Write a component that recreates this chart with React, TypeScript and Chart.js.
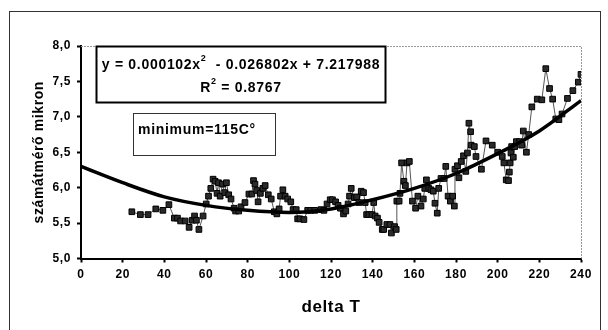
import React, { useEffect, useRef } from 'react';
import { Chart, registerables } from 'chart.js';

Chart.register(...registerables);

const FONT = '"Liberation Sans", Arial, Helvetica, sans-serif';

const deltaT = [
  24.4, 28.5, 32.2, 35.9, 39.3, 42.2, 44.8, 46.3, 47.8, 50.0, 51.9, 53.4, 54.5, 55.4, 56.6, 58.6,
  60.1, 61.2, 62.3, 63.4, 64.4, 65.3, 66.0, 66.8, 67.9, 69.0, 69.8, 70.9, 72.0, 73.5, 74.2, 75.7,
  76.8, 78.7, 80.6, 82.0, 82.8, 83.5, 84.3, 85.0, 86.1, 87.3, 88.4, 89.9, 91.3, 92.8, 94.0, 95.1,
  95.8, 96.9, 98.0, 99.2, 100.7, 101.8, 103.3, 104.0, 105.1, 107.0, 108.8, 110.3, 112.2, 115.2,
  116.6, 118.1, 119.6, 120.7, 122.2, 123.4, 124.5, 126.0, 127.1, 128.2, 128.9, 129.7, 131.2, 132.3,
  133.4, 134.5, 135.6, 136.4, 137.1, 138.2, 139.7, 140.5, 141.2, 142.3, 143.1, 144.6, 145.3, 146.8,
  148.3, 149.0, 150.5, 151.3, 151.6, 152.7, 153.1, 153.9, 155.0, 155.7, 156.5, 157.6, 159.1, 160.6,
  161.7, 163.2, 164.3, 165.0, 165.8, 166.9, 168.0, 169.1, 169.9, 171.0, 171.7, 172.8, 174.3, 175.1,
  176.2, 177.3, 178.4, 179.2, 179.5, 180.7, 181.4, 182.5, 183.6, 184.7, 185.5, 186.2, 187.0, 187.3,
  188.8, 189.6, 192.2, 194.4, 197.4, 200.0, 202.2, 203.0, 204.1, 205.2, 205.6, 206.0, 206.4, 206.7,
  207.5, 208.2, 209.0, 210.5, 211.5, 212.3, 213.8, 214.9, 216.4, 219.0, 221.2, 223.1, 224.9, 226.4,
  227.9, 229.4, 230.9, 233.5, 236.1, 238.7, 240.0,
];

const diameter = [
  5.66, 5.62, 5.62, 5.70, 5.68, 5.76, 5.57, 5.57, 5.53, 5.53, 5.44, 5.54, 5.60, 5.54, 5.41, 5.60,
  5.77, 5.88, 5.99, 6.12, 6.09, 5.92, 6.07, 5.88, 6.05, 5.93, 6.07, 5.90, 5.84, 5.71, 5.67, 5.67,
  5.73, 5.79, 5.91, 5.91, 6.10, 6.05, 5.96, 5.80, 5.92, 5.99, 6.03, 5.90, 5.84, 5.66, 5.63, 5.70,
  5.88, 5.97, 5.88, 5.84, 5.80, 5.69, 5.69, 5.56, 5.56, 5.55, 5.68, 5.68, 5.68, 5.69,
  5.68, 5.77, 5.83, 5.83, 5.80, 5.75, 5.71, 5.63, 5.67, 5.77, 5.88, 5.99, 5.86, 5.87,
  5.79, 5.95, 5.93, 5.79, 5.62, 5.62, 5.62, 5.79, 5.60, 5.57, 5.51, 5.41, 5.41, 5.48,
  5.48, 5.36, 5.45, 5.41, 5.81, 5.81, 5.92, 6.35, 6.09, 6.03, 6.35, 6.37, 5.81, 5.71,
  5.88, 5.74, 5.84, 5.99, 6.11, 5.99, 5.97, 5.95, 5.78, 5.64, 5.99, 6.13, 6.13, 6.30,
  5.88, 5.81, 5.88, 5.74, 6.26, 6.31, 6.14, 6.37, 6.45, 6.23, 6.49, 6.91, 6.79, 6.60,
  6.58, 6.44, 6.26, 6.66, 6.60, 6.50, 6.44, 6.35, 6.11, 6.10, 6.22, 6.35, 6.49, 6.58,
  6.43, 6.58, 6.65, 6.65, 6.60, 6.80, 6.50, 6.75, 7.14, 7.25, 7.24, 7.68, 7.40, 7.25,
  6.97, 6.96, 7.04, 7.26, 7.37, 7.49, 7.60,
];

const trendX = [0, 20, 40, 60, 80, 100, 120, 140, 160, 180, 200, 220, 240];
const trendY = [6.30, 6.07, 5.87, 5.75, 5.68, 5.65, 5.70, 5.83, 5.99, 6.20, 6.48, 6.80, 7.23];

const xTickValues = [0, 20, 40, 60, 80, 100, 120, 140, 160, 180, 200, 220, 240];
const yTickValues = [5, 5.5, 6, 6.5, 7, 7.5, 8];
const yTickLabels = ['5,0', '5,5', '6,0', '6,5', '7,0', '7,5', '8,0'];

const xTitle = 'delta T';
const yTitle = 'számátmérő mikron';
const equationLine1 = [
  { t: 'y = 0.000102x', sup: false },
  { t: '2', sup: true },
  { t: '  - 0.026802x + 7.217988', sup: false },
];
const equationLine2 = [
  { t: 'R', sup: false },
  { t: '2', sup: true },
  { t: ' = 0.8767', sup: false },
];
const minimumLine = [{ t: 'minimum=115C°', sup: false }];

type Seg = { t: string; sup: boolean };

function drawSegs(ctx: CanvasRenderingContext2D, segs: Seg[], x: number, y: number, center: boolean) {
  const big = `bold 14px ${FONT}`;
  const small = `bold 9px ${FONT}`;
  let total = 0;
  const widths = segs.map((s) => {
    ctx.font = s.sup ? small : big;
    const w = ctx.measureText(s.t).width;
    total += w;
    return w;
  });
  let cx = center ? x - total / 2 : x;
  segs.forEach((s, i) => {
    ctx.font = s.sup ? small : big;
    ctx.textAlign = 'left';
    ctx.textBaseline = 'middle';
    ctx.fillText(s.t, cx, s.sup ? y - 6 : y);
    cx += widths[i];
  });
}

const decorPlugin = {
  id: 'decor',
  beforeDraw(chart: any) {
    const ctx = chart.ctx as CanvasRenderingContext2D;
    ctx.save();
    ctx.fillStyle = '#fff';
    ctx.fillRect(0, 0, chart.width, chart.height);
    ctx.strokeStyle = '#333';
    ctx.lineWidth = 1;
    ctx.strokeRect(9.5, 11.5, 591, 340);
    ctx.restore();
    (ctx as any).letterSpacing = '0.6px';
  },
  afterDraw(chart: any) {
    const ctx = chart.ctx as CanvasRenderingContext2D;
    const ca = chart.chartArea;
    ctx.save();
    (ctx as any).letterSpacing = '0px';
    // top and right plot border (thin dotted gray)
    ctx.strokeStyle = '#999';
    ctx.lineWidth = 1;
    ctx.setLineDash([2, 1]);
    ctx.beginPath();
    ctx.moveTo(ca.left, ca.top + 0.5);
    ctx.lineTo(ca.right + 0.5, ca.top + 0.5);
    ctx.lineTo(ca.right + 0.5, ca.bottom);
    ctx.stroke();
    ctx.setLineDash([]);

    // equation box
    const ex0 = 96.5, ey0 = 46.5, ex1 = 385.5, ey1 = 102.5;
    ctx.fillStyle = '#fff';
    ctx.fillRect(ex0, ey0, ex1 - ex0, ey1 - ey0);
    ctx.strokeStyle = '#000';
    ctx.lineWidth = 2;
    ctx.strokeRect(ex0, ey0, ex1 - ex0, ey1 - ey0);

    // minimum box
    const mx0 = 133.5, my0 = 113.5, mx1 = 275.5, my1 = 155.5;
    ctx.fillRect(mx0, my0, mx1 - mx0, my1 - my0);
    ctx.strokeStyle = '#333';
    ctx.lineWidth = 1;
    ctx.strokeRect(mx0, my0, mx1 - mx0, my1 - my0);

    ctx.fillStyle = '#000';
    (ctx as any).letterSpacing = '0.7px';
    drawSegs(ctx, equationLine1, (ex0 + ex1) / 2, 65, true);
    drawSegs(ctx, equationLine2, (ex0 + ex1) / 2, 88, true);
    drawSegs(ctx, minimumLine, 138, 130, false);
    ctx.restore();
  },
};

export default function App() {
  const ref = useRef<HTMLCanvasElement | null>(null);

  useEffect(() => {
    if (!ref.current) return;
    const chart = new Chart(ref.current, {
      type: 'line',
      data: {
        datasets: [
          {
            label: 'trend',
            data: trendX.map((x, i) => ({ x, y: trendY[i] })),
            borderColor: '#000',
            borderWidth: 3.5,
            pointRadius: 0,
            cubicInterpolationMode: 'monotone',
            order: 0,
          } as any,
          {
            label: 'számátmérő',
            data: deltaT.map((x, i) => ({ x, y: diameter[i] })),
            borderColor: '#555',
            borderWidth: 1,
            pointStyle: 'rect',
            pointRadius: 4,
            pointBackgroundColor: '#2a2a2a',
            pointBorderColor: '#000',
            pointBorderWidth: 1,
            tension: 0,
            order: 1,
          } as any,
        ],
      },
      options: {
        responsive: false,
        animation: false,
        layout: { padding: { left: 0, top: 46, right: 27, bottom: 0 } },
        plugins: { legend: { display: false }, tooltip: { enabled: false } },
        scales: {
          x: {
            type: 'linear',
            min: 0,
            max: 240,
            afterBuildTicks: (s: any) => {
              s.ticks = xTickValues.map((v) => ({ value: v }));
            },
            afterFit: (s: any) => {
              s.height = 71.5;
            },
            grid: { drawOnChartArea: false, tickLength: 4, tickColor: '#000', tickWidth: 2 },
            border: { color: '#000', width: 2 },
            ticks: {
              color: '#000',
              font: { family: FONT, size: 12, weight: 'bold' },
              padding: 5,
              maxRotation: 0,
              autoSkip: false,
            },
            title: {
              display: true,
              text: xTitle,
              color: '#000',
              font: { family: FONT, size: 17, weight: 'bold' },
              padding: { top: 0, bottom: 12 },
            },
          },
          y: {
            type: 'linear',
            min: 5,
            max: 8,
            afterBuildTicks: (s: any) => {
              s.ticks = yTickValues.map((v) => ({ value: v }));
            },
            afterFit: (s: any) => {
              s.width = 81;
            },
            grid: { drawOnChartArea: false, tickLength: 4, tickColor: '#000', tickWidth: 2 },
            border: { color: '#000', width: 2 },
            ticks: {
              color: '#000',
              font: { family: FONT, size: 12, weight: 'bold' },
              padding: 6,
              callback: (v: any) => {
                const i = yTickValues.indexOf(Number(v));
                return i >= 0 ? yTickLabels[i] : '';
              },
            },
            title: {
              display: true,
              text: yTitle,
              color: '#000',
              font: { family: FONT, size: 14, weight: 'bold' },
              padding: { top: 31, bottom: 0 },
            },
          },
        },
      },
      plugins: [decorPlugin],
    });
    return () => chart.destroy();
  }, []);

  return (
    <div style={{ position: 'fixed', left: 0, top: 0, width: 608, height: 330, background: '#fff' }}>
      <canvas ref={ref} width={608} height={330} style={{ display: 'block' }} />
    </div>
  );
}
